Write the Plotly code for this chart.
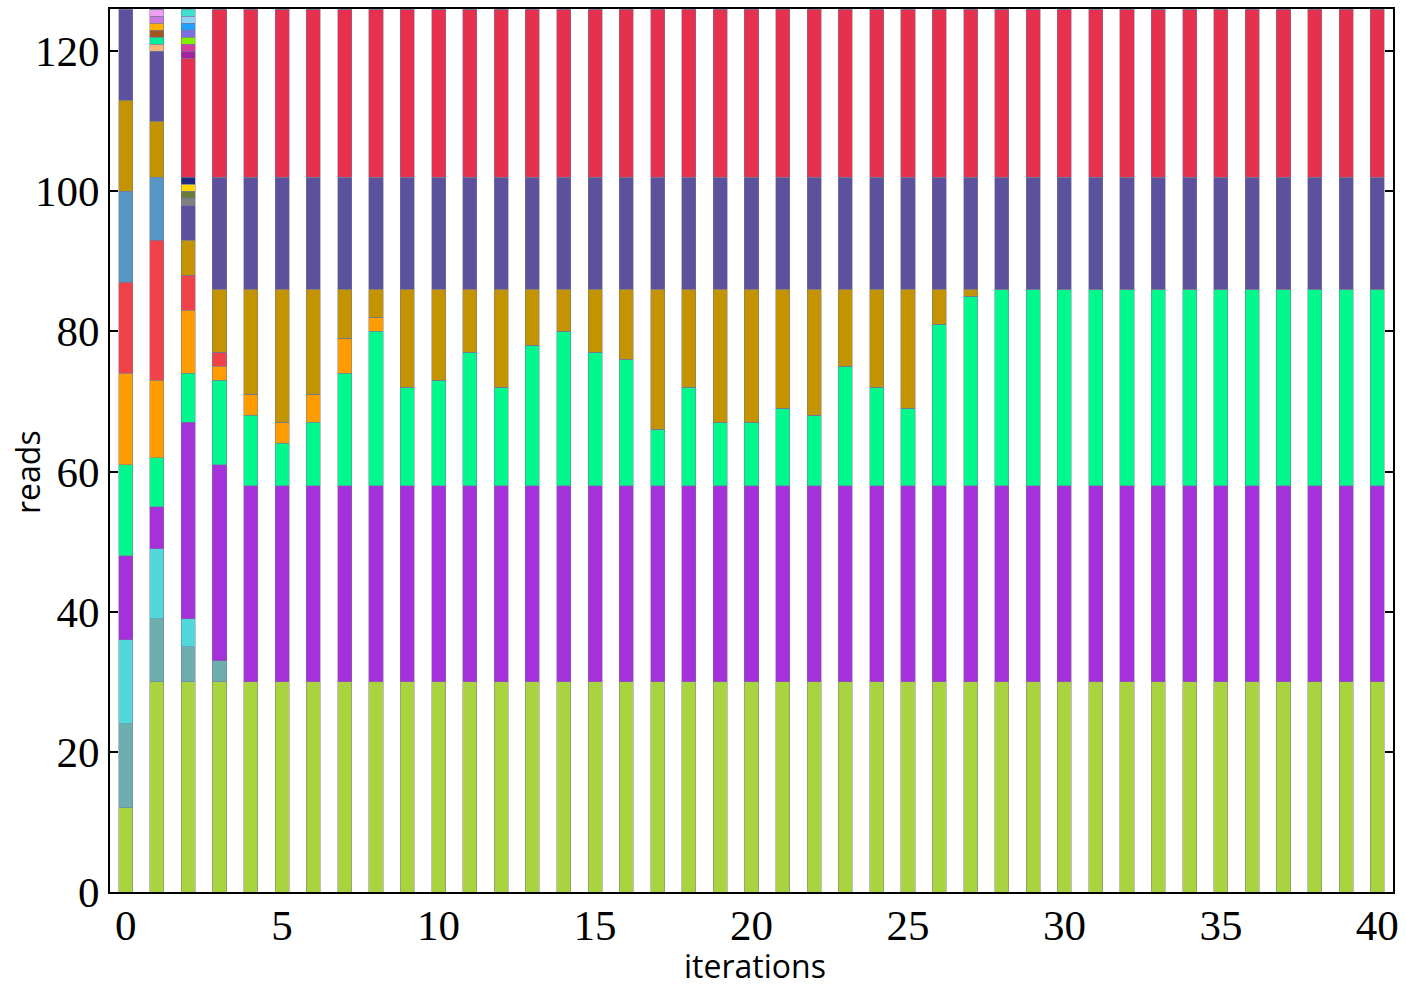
import plotly.graph_objects as go

iterations = list(range(41))

# read counts per cluster at each iteration (stack order bottom -> top)
lime      = [12, 30, 30, 30, 30, 30, 30, 30, 30, 30, 30, 30, 30, 30, 30, 30, 30, 30, 30, 30, 30, 30, 30, 30, 30, 30, 30, 30, 30, 30, 30, 30, 30, 30, 30, 30, 30, 30, 30, 30, 30]
tealgray  = [12, 9, 5, 3, 0, 0, 0, 0, 0, 0, 0, 0, 0, 0, 0, 0, 0, 0, 0, 0, 0, 0, 0, 0, 0, 0, 0, 0, 0, 0, 0, 0, 0, 0, 0, 0, 0, 0, 0, 0, 0]
cyan      = [12, 10, 4, 0, 0, 0, 0, 0, 0, 0, 0, 0, 0, 0, 0, 0, 0, 0, 0, 0, 0, 0, 0, 0, 0, 0, 0, 0, 0, 0, 0, 0, 0, 0, 0, 0, 0, 0, 0, 0, 0]
purple    = [12, 6, 28, 28, 28, 28, 28, 28, 28, 28, 28, 28, 28, 28, 28, 28, 28, 28, 28, 28, 28, 28, 28, 28, 28, 28, 28, 28, 28, 28, 28, 28, 28, 28, 28, 28, 28, 28, 28, 28, 28]
green     = [13, 7, 7, 12, 10, 6, 9, 16, 22, 14, 15, 19, 14, 20, 22, 19, 18, 8, 14, 9, 9, 11, 10, 17, 14, 11, 23, 27, 28, 28, 28, 28, 28, 28, 28, 28, 28, 28, 28, 28, 28]
orange    = [13, 11, 9, 2, 3, 3, 4, 5, 2, 0, 0, 0, 0, 0, 0, 0, 0, 0, 0, 0, 0, 0, 0, 0, 0, 0, 0, 0, 0, 0, 0, 0, 0, 0, 0, 0, 0, 0, 0, 0, 0]
red       = [13, 20, 5, 2, 0, 0, 0, 0, 0, 0, 0, 0, 0, 0, 0, 0, 0, 0, 0, 0, 0, 0, 0, 0, 0, 0, 0, 0, 0, 0, 0, 0, 0, 0, 0, 0, 0, 0, 0, 0, 0]
steelblue = [13, 9, 0, 0, 0, 0, 0, 0, 0, 0, 0, 0, 0, 0, 0, 0, 0, 0, 0, 0, 0, 0, 0, 0, 0, 0, 0, 0, 0, 0, 0, 0, 0, 0, 0, 0, 0, 0, 0, 0, 0]
gold      = [13, 8, 5, 9, 15, 19, 15, 7, 4, 14, 13, 9, 14, 8, 6, 9, 10, 20, 14, 19, 19, 17, 18, 11, 14, 17, 5, 1, 0, 0, 0, 0, 0, 0, 0, 0, 0, 0, 0, 0, 0]
slate     = [13, 10, 5, 16, 16, 16, 16, 16, 16, 16, 16, 16, 16, 16, 16, 16, 16, 16, 16, 16, 16, 16, 16, 16, 16, 16, 16, 16, 16, 16, 16, 16, 16, 16, 16, 16, 16, 16, 16, 16, 16]
peach     = [0, 1, 0, 0, 0, 0, 0, 0, 0, 0, 0, 0, 0, 0, 0, 0, 0, 0, 0, 0, 0, 0, 0, 0, 0, 0, 0, 0, 0, 0, 0, 0, 0, 0, 0, 0, 0, 0, 0, 0, 0]
mint      = [0, 1, 0, 0, 0, 0, 0, 0, 0, 0, 0, 0, 0, 0, 0, 0, 0, 0, 0, 0, 0, 0, 0, 0, 0, 0, 0, 0, 0, 0, 0, 0, 0, 0, 0, 0, 0, 0, 0, 0, 0]
brown     = [0, 1, 0, 0, 0, 0, 0, 0, 0, 0, 0, 0, 0, 0, 0, 0, 0, 0, 0, 0, 0, 0, 0, 0, 0, 0, 0, 0, 0, 0, 0, 0, 0, 0, 0, 0, 0, 0, 0, 0, 0]
amber     = [0, 1, 0, 0, 0, 0, 0, 0, 0, 0, 0, 0, 0, 0, 0, 0, 0, 0, 0, 0, 0, 0, 0, 0, 0, 0, 0, 0, 0, 0, 0, 0, 0, 0, 0, 0, 0, 0, 0, 0, 0]
orchid    = [0, 1, 0, 0, 0, 0, 0, 0, 0, 0, 0, 0, 0, 0, 0, 0, 0, 0, 0, 0, 0, 0, 0, 0, 0, 0, 0, 0, 0, 0, 0, 0, 0, 0, 0, 0, 0, 0, 0, 0, 0]
plum      = [0, 1, 0, 0, 0, 0, 0, 0, 0, 0, 0, 0, 0, 0, 0, 0, 0, 0, 0, 0, 0, 0, 0, 0, 0, 0, 0, 0, 0, 0, 0, 0, 0, 0, 0, 0, 0, 0, 0, 0, 0]
gray      = [0, 0, 1, 0, 0, 0, 0, 0, 0, 0, 0, 0, 0, 0, 0, 0, 0, 0, 0, 0, 0, 0, 0, 0, 0, 0, 0, 0, 0, 0, 0, 0, 0, 0, 0, 0, 0, 0, 0, 0, 0]
olive     = [0, 0, 1, 0, 0, 0, 0, 0, 0, 0, 0, 0, 0, 0, 0, 0, 0, 0, 0, 0, 0, 0, 0, 0, 0, 0, 0, 0, 0, 0, 0, 0, 0, 0, 0, 0, 0, 0, 0, 0, 0]
yellow    = [0, 0, 1, 0, 0, 0, 0, 0, 0, 0, 0, 0, 0, 0, 0, 0, 0, 0, 0, 0, 0, 0, 0, 0, 0, 0, 0, 0, 0, 0, 0, 0, 0, 0, 0, 0, 0, 0, 0, 0, 0]
navy      = [0, 0, 1, 0, 0, 0, 0, 0, 0, 0, 0, 0, 0, 0, 0, 0, 0, 0, 0, 0, 0, 0, 0, 0, 0, 0, 0, 0, 0, 0, 0, 0, 0, 0, 0, 0, 0, 0, 0, 0, 0]
crimson   = [0, 0, 17, 24, 24, 24, 24, 24, 24, 24, 24, 24, 24, 24, 24, 24, 24, 24, 24, 24, 24, 24, 24, 24, 24, 24, 24, 24, 24, 24, 24, 24, 24, 24, 24, 24, 24, 24, 24, 24, 24]
magenta   = [0, 0, 1, 0, 0, 0, 0, 0, 0, 0, 0, 0, 0, 0, 0, 0, 0, 0, 0, 0, 0, 0, 0, 0, 0, 0, 0, 0, 0, 0, 0, 0, 0, 0, 0, 0, 0, 0, 0, 0, 0]
deeppink  = [0, 0, 1, 0, 0, 0, 0, 0, 0, 0, 0, 0, 0, 0, 0, 0, 0, 0, 0, 0, 0, 0, 0, 0, 0, 0, 0, 0, 0, 0, 0, 0, 0, 0, 0, 0, 0, 0, 0, 0, 0]
chartreuse= [0, 0, 1, 0, 0, 0, 0, 0, 0, 0, 0, 0, 0, 0, 0, 0, 0, 0, 0, 0, 0, 0, 0, 0, 0, 0, 0, 0, 0, 0, 0, 0, 0, 0, 0, 0, 0, 0, 0, 0, 0]
lavender  = [0, 0, 1, 0, 0, 0, 0, 0, 0, 0, 0, 0, 0, 0, 0, 0, 0, 0, 0, 0, 0, 0, 0, 0, 0, 0, 0, 0, 0, 0, 0, 0, 0, 0, 0, 0, 0, 0, 0, 0, 0]
dodger    = [0, 0, 1, 0, 0, 0, 0, 0, 0, 0, 0, 0, 0, 0, 0, 0, 0, 0, 0, 0, 0, 0, 0, 0, 0, 0, 0, 0, 0, 0, 0, 0, 0, 0, 0, 0, 0, 0, 0, 0, 0]
skyblue   = [0, 0, 1, 0, 0, 0, 0, 0, 0, 0, 0, 0, 0, 0, 0, 0, 0, 0, 0, 0, 0, 0, 0, 0, 0, 0, 0, 0, 0, 0, 0, 0, 0, 0, 0, 0, 0, 0, 0, 0, 0]
turquoise = [0, 0, 1, 0, 0, 0, 0, 0, 0, 0, 0, 0, 0, 0, 0, 0, 0, 0, 0, 0, 0, 0, 0, 0, 0, 0, 0, 0, 0, 0, 0, 0, 0, 0, 0, 0, 0, 0, 0, 0, 0]

series = [
    ("lime", lime, "#a9d440"),
    ("tealgray", tealgray, "#6eaeae"),
    ("cyan", cyan, "#52d8da"),
    ("purple", purple, "#a431d9"),
    ("green", green, "#00f88c"),
    ("orange", orange, "#ff9c00"),
    ("red", red, "#f04248"),
    ("steelblue", steelblue, "#5596c4"),
    ("gold", gold, "#c49400"),
    ("slate", slate, "#5b519c"),
    ("peach", peach, "#f7b57a"),
    ("mint", mint, "#00f0a0"),
    ("brown", brown, "#a0561e"),
    ("amber", amber, "#ffb000"),
    ("orchid", orchid, "#c879e0"),
    ("plum", plum, "#f0a0f0"),
    ("gray", gray, "#808080"),
    ("olive", olive, "#6b7b3b"),
    ("yellow", yellow, "#ffd700"),
    ("navy", navy, "#1f2a80"),
    ("crimson", crimson, "#e5304e"),
    ("magenta", magenta, "#a3229f"),
    ("deeppink", deeppink, "#d63a9c"),
    ("chartreuse", chartreuse, "#80f000"),
    ("lavender", lavender, "#7b6fe0"),
    ("dodger", dodger, "#20a0ff"),
    ("skyblue", skyblue, "#90d0f0"),
    ("turquoise", turquoise, "#40e0d0"),
]

fig = go.Figure()
for name, vals, col in series:
    fig.add_trace(go.Bar(
        x=iterations, y=vals, name=name, width=0.45,
        marker=dict(color=col, line=dict(color="rgba(120,120,150,0.6)", width=0.8)),
        showlegend=False,
    ))

tickfont = dict(family="Liberation Serif", size=43, color="black")
titlefont = dict(family="Open Sans", size=32, color="black")

fig.update_layout(
    barmode="stack",
    width=1406, height=988,
    margin=dict(l=110, r=13, t=9, b=96),
    plot_bgcolor="white", paper_bgcolor="white",
    xaxis=dict(
        range=[-0.5, 40.5], tickmode="array", tickvals=[0, 5, 10, 15, 20, 25, 30, 35, 40],
        ticks="", showgrid=False, zeroline=False, automargin=False,
        showline=True, linecolor="black", linewidth=2, mirror=True,
        tickfont=tickfont, ticklabelstandoff=-6,
    ),
    yaxis=dict(
        range=[0, 126], tickmode="array", tickvals=[0, 20, 40, 60, 80, 100, 120],
        ticks="inside", ticklen=8, tickwidth=2, tickcolor="black",
        showgrid=False, zeroline=False, automargin=False,
        showline=True, linecolor="black", linewidth=2, mirror="allticks",
        tickfont=tickfont,
    ),
    annotations=[
        dict(text="iterations", xref="paper", yref="paper", x=0.5027, y=-0.0838,
             xanchor="center", yanchor="middle", showarrow=False, font=titlefont),
        dict(text="reads", xref="paper", yref="paper", x=-0.0639, y=0.4757,
             xanchor="center", yanchor="middle", textangle=-90, showarrow=False, font=titlefont),
    ],
)

fig.write_html("out.html")
